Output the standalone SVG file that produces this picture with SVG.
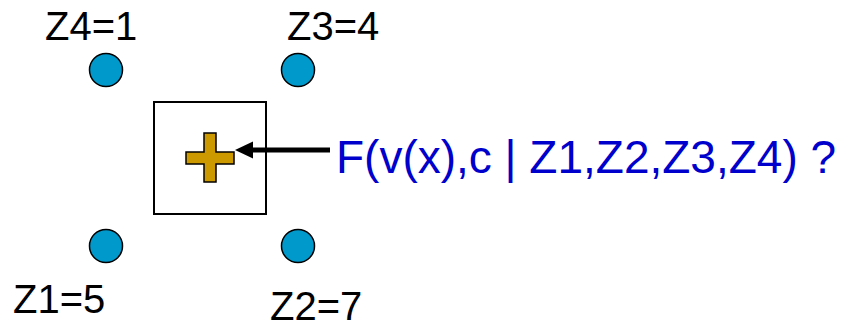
<svg xmlns="http://www.w3.org/2000/svg" width="858" height="327" viewBox="0 0 858 327">
<style>
.pt{fill:#0099CC;stroke:#000;stroke-width:1.5}
.lbl{font-family:"Liberation Sans",Arial,sans-serif;font-size:40px;fill:#000}
.q{font-family:"Liberation Sans",Arial,sans-serif;font-size:46px;fill:#0000CC}
</style>
<defs>
<marker id="ah" viewBox="0 0 10 10" refX="0" refY="5" markerWidth="3.4" markerHeight="3.4" markerUnits="strokeWidth" orient="auto-start-reverse">
<path d="M0,0 L10,5 L0,10 z" fill="#000"/>
</marker>
</defs>
<rect width="858" height="327" fill="#fff"/>
<g id="z4"><circle class="pt" cx="106" cy="70" r="16.5"/><text class="lbl" x="45" y="40">Z4=1</text></g>
<g id="z3"><circle class="pt" cx="298" cy="70" r="16.5"/><text class="lbl" x="287" y="40">Z3=4</text></g>
<g id="z1"><circle class="pt" cx="106" cy="246" r="16.5"/><text class="lbl" x="13" y="313">Z1=5</text></g>
<g id="z2"><circle class="pt" cx="298" cy="246" r="16.5"/><text class="lbl" x="270" y="320">Z2=7</text></g>
<g id="cell"><rect x="154" y="102" width="112" height="112" fill="none" stroke="#000" stroke-width="2"/></g>
<g id="target"><path d="M204,133 H216 V152 H234 V164 H216 V182 H204 V164 H186 V152 H204 Z" fill="#CC9900" stroke="#000" stroke-width="1.5"/></g>
<g id="connectors"><line x1="330" y1="150" x2="252" y2="150" stroke="#000" stroke-width="5"/><path d="M235,150 L253,141.5 L253,158.5 Z" fill="#000"/></g>
<g id="question"><text class="q" x="336" y="173">F(v(x),c | Z1,Z2,Z3,Z4) ?</text></g>
</svg>
